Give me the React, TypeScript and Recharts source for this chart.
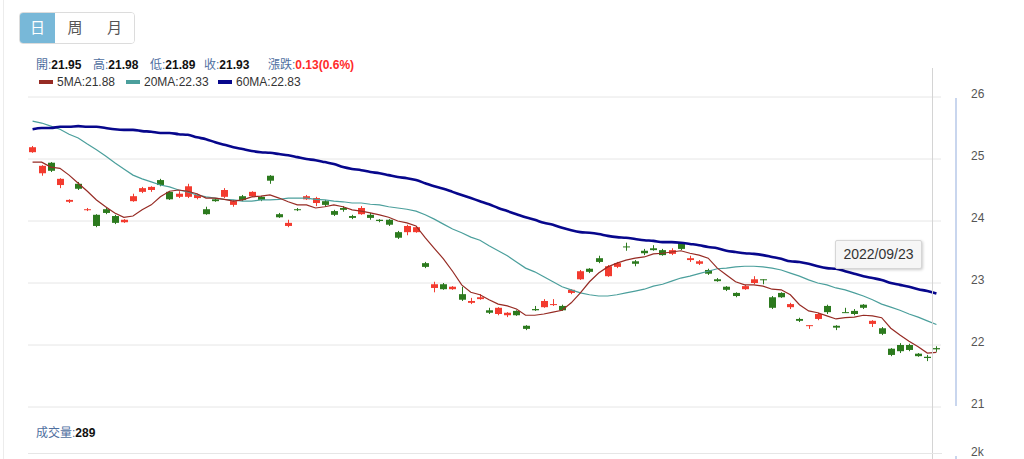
import { Bar, CartesianGrid, ComposedChart, Line, XAxis, YAxis } from "recharts"

// daily candles, oldest first (last one is 2022/09/23)
const OPENS = [
  25.11, 24.77, 24.94, 24.58, 24.31, 24.6, 24.18, 24.1, 24.19, 24.08,
  23.98, 24.32, 24.47, 24.5, 24.66, 24.47, 24.39, 24.39, 24.37, 24.19,
  24.35, 24.39, 24.26, 24.4, 24.4, 24.39, 24.73, 24.11, 23.92, 24.19,
  24.35, 24.29, 24.32, 24.16, 24.21, 24.08, 24.11, 24.1, 24.02, 24.02,
  23.82, 23.82, 23.82, 23.32, 22.92, 22.98, 22.9, 22.82, 22.68, 22.74,
  22.56, 22.5, 22.48, 22.55, 22.31, 22.58, 22.61, 22.65, 22.63, 22.84,
  23.06, 23.23, 23.4, 23.11, 23.26, 23.59, 23.35, 23.52, 23.56, 23.53,
  23.47, 23.65, 23.37, 23.31, 23.21, 23.06, 22.94, 22.84, 22.9, 23.0,
  23.06, 22.77, 22.84, 22.61, 22.42, 22.31, 22.42, 22.63, 22.31, 22.53,
  22.55, 22.65, 22.34, 22.27, 21.94, 22.0, 22.0, 21.86, 21.81, 21.95,
]
const HIGHS = [
  25.21, 24.9, 24.95, 24.69, 24.35, 24.63, 24.21, 24.11, 24.21, 24.1,
  24.03, 24.44, 24.55, 24.56, 24.68, 24.48, 24.48, 24.6, 24.44, 24.23,
  24.37, 24.53, 24.34, 24.42, 24.48, 24.4, 24.74, 24.13, 24.02, 24.21,
  24.42, 24.39, 24.34, 24.18, 24.24, 24.1, 24.24, 24.13, 24.03, 24.03,
  23.84, 23.94, 23.92, 23.34, 23.02, 23.0, 22.95, 22.94, 22.76, 22.82,
  22.6, 22.61, 22.53, 22.56, 22.32, 22.63, 22.74, 22.74, 22.65, 22.9,
  23.21, 23.24, 23.44, 23.29, 23.34, 23.65, 23.37, 23.55, 23.61, 23.55,
  23.56, 23.66, 23.44, 23.37, 23.23, 23.08, 22.95, 22.85, 22.97, 23.11,
  23.06, 22.79, 22.85, 22.68, 22.44, 22.32, 22.52, 22.65, 22.32, 22.6,
  22.58, 22.66, 22.4, 22.29, 21.95, 22.03, 22.02, 21.87, 21.84, 21.98,
]
const LOWS = [
  25.1, 24.73, 24.79, 24.53, 24.29, 24.5, 24.16, 23.9, 24.11, 23.95,
  23.97, 24.31, 24.45, 24.47, 24.56, 24.34, 24.37, 24.37, 24.35, 24.1,
  24.31, 24.37, 24.23, 24.32, 24.39, 24.32, 24.6, 24.05, 23.9, 24.16,
  24.34, 24.24, 24.24, 24.08, 24.15, 24.03, 24.1, 24.02, 23.98, 23.92,
  23.71, 23.77, 23.81, 23.24, 22.85, 22.89, 22.89, 22.71, 22.66, 22.73,
  22.5, 22.48, 22.45, 22.47, 22.24, 22.55, 22.6, 22.63, 22.55, 22.82,
  23.05, 23.16, 23.32, 23.1, 23.24, 23.52, 23.27, 23.45, 23.52, 23.44,
  23.45, 23.53, 23.34, 23.29, 23.13, 23.02, 22.87, 22.77, 22.89, 22.98,
  22.98, 22.58, 22.76, 22.58, 22.37, 22.26, 22.4, 22.5, 22.24, 22.52,
  22.48, 22.58, 22.29, 22.16, 21.82, 21.87, 21.9, 21.81, 21.74, 21.89,
]
const CLOSES = [
  25.19, 24.89, 24.81, 24.68, 24.34, 24.52, 24.19, 23.92, 24.13, 23.97,
  24.02, 24.4, 24.53, 24.55, 24.58, 24.35, 24.44, 24.56, 24.42, 24.11,
  24.32, 24.5, 24.32, 24.34, 24.47, 24.34, 24.65, 24.06, 23.97, 24.18,
  24.4, 24.37, 24.26, 24.1, 24.18, 24.05, 24.21, 24.05, 24.0, 23.94,
  23.73, 23.92, 23.9, 23.26, 22.98, 22.9, 22.94, 22.73, 22.71, 22.77,
  22.52, 22.6, 22.52, 22.48, 22.26, 22.56, 22.71, 22.66, 22.56, 22.89,
  23.19, 23.18, 23.34, 23.27, 23.32, 23.58, 23.31, 23.48, 23.53, 23.45,
  23.53, 23.55, 23.4, 23.35, 23.15, 23.03, 22.89, 22.79, 22.95, 23.06,
  23.05, 22.6, 22.77, 22.66, 22.39, 22.32, 22.5, 22.53, 22.28, 22.52,
  22.5, 22.6, 22.39, 22.18, 21.84, 21.9, 21.92, 21.82, 21.79, 21.93,
]

const MA5 = [
  24.95, 24.95, 24.87, 24.85, 24.74, 24.61, 24.48, 24.34, 24.23, 24.13,
  24.06, 24.08, 24.18, 24.26, 24.39, 24.48, 24.5, 24.48, 24.44, 24.37,
  24.37, 24.35, 24.32, 24.34, 24.39, 24.4, 24.42, 24.37, 24.31, 24.26,
  24.26, 24.21, 24.23, 24.26, 24.23, 24.18, 24.16, 24.13, 24.1, 24.06,
  24.0, 23.97, 23.92, 23.73, 23.56, 23.39, 23.19, 22.97, 22.85, 22.81,
  22.73, 22.66, 22.63, 22.58, 22.48, 22.48, 22.5, 22.53, 22.56, 22.68,
  22.84, 23.02, 23.16, 23.26, 23.32, 23.37, 23.4, 23.42, 23.47, 23.48,
  23.5, 23.52, 23.48, 23.45, 23.4, 23.24, 23.13, 23.02, 22.97, 22.97,
  22.95, 22.9, 22.89, 22.81, 22.65, 22.55, 22.52, 22.47, 22.42, 22.44,
  22.45, 22.48, 22.47, 22.44, 22.27, 22.16, 22.06, 21.97, 21.87, 21.88,
]
const MA20 = [
  25.61, 25.58, 25.53, 25.48, 25.4, 25.34, 25.24, 25.15, 25.05, 24.94,
  24.84, 24.74, 24.68, 24.63, 24.58, 24.55, 24.5, 24.47, 24.42, 24.39,
  24.37, 24.35, 24.34, 24.32, 24.32, 24.34, 24.34, 24.35, 24.37, 24.37,
  24.37, 24.35, 24.34, 24.32, 24.31, 24.29, 24.29, 24.27, 24.26, 24.23,
  24.21, 24.19, 24.16, 24.1, 24.03, 23.95, 23.87, 23.81, 23.74, 23.69,
  23.6, 23.52, 23.44, 23.34, 23.24, 23.18, 23.1, 23.02, 22.94, 22.89,
  22.84, 22.81, 22.79, 22.79, 22.81, 22.84, 22.87, 22.9, 22.95, 22.98,
  23.03, 23.08, 23.11, 23.15, 23.19, 23.23, 23.24, 23.26, 23.27, 23.27,
  23.26, 23.24, 23.21, 23.16, 23.11, 23.05, 23.0, 22.97, 22.92, 22.89,
  22.84, 22.79, 22.73, 22.66, 22.61, 22.56, 22.5, 22.45, 22.39, 22.33,
]
const MA60 = [
  25.48, 25.5, 25.5, 25.52, 25.52, 25.53, 25.52, 25.52, 25.5, 25.48,
  25.47, 25.47, 25.45, 25.44, 25.42, 25.42, 25.4, 25.39, 25.35, 25.32,
  25.27, 25.23, 25.19, 25.16, 25.13, 25.11, 25.1, 25.08, 25.06, 25.03,
  25.0, 24.98, 24.95, 24.92, 24.87, 24.84, 24.82, 24.79, 24.77, 24.74,
  24.71, 24.69, 24.66, 24.61, 24.56, 24.52, 24.47, 24.42, 24.37, 24.32,
  24.27, 24.21, 24.16, 24.11, 24.06, 24.02, 23.97, 23.94, 23.89, 23.85,
  23.82, 23.81, 23.79, 23.76, 23.74, 23.73, 23.71, 23.69, 23.68, 23.66,
  23.66, 23.65, 23.63, 23.61, 23.58, 23.56, 23.52, 23.5, 23.48, 23.47,
  23.45, 23.42, 23.39, 23.35, 23.34, 23.31, 23.27, 23.24, 23.23, 23.19,
  23.15, 23.11, 23.08, 23.05, 23.0, 22.97, 22.94, 22.9, 22.87, 22.83,
]

const PRICE_TICKS = [21, 22, 23, 24, 25, 26]
const PERIOD_TABS = ["日", "周", "月"]
const TAB_WIDTHS = [35, 40, 39]
const LAST_DATE = "2022/09/23"
const QUOTE_LABELS = ["開", "高", "低", "收"]
const QUOTE_VALUES = ["21.95", "21.98", "21.89", "21.93"]
const QUOTE_X = [36, 93, 150, 204]
const CHANGE_TEXT = "0.13(0.6%)"
const VOLUME_TEXT = "289"

const UP = "#f33b2f"
const DOWN = "#2c7a1e"
const MA_COLORS = { ma5: "#962b24", ma20: "#4b9f9c", ma60: "#07078c" }
const LABEL_BLUE = "#4f6f9f"
const FONT = "Helvetica, Arial, 'Liberation Sans', 'Noto Sans CJK TC', sans-serif"

const data = OPENS.map((open, i) => ({
  day: i,
  open,
  high: HIGHS[i],
  low: LOWS[i],
  close: CLOSES[i],
  ma5: MA5[i],
  ma20: MA20[i],
  ma60: MA60[i],
}))

function Candle(props: any) {
  const { x, y, width, height, payload } = props
  if (!payload) return null
  const { open, close, high, low } = payload
  const color = close >= open ? UP : DOWN
  const top = Math.min(y, y + height)
  const h = Math.abs(height)
  const ratio = high === low ? 0 : h / (high - low)
  const yOpen = top + (high - open) * ratio
  const yClose = top + (high - close) * ratio
  const bodyTop = Math.min(yOpen, yClose)
  const bodyH = Math.max(1, Math.abs(yOpen - yClose))
  const cx = Math.round(x + width / 2) + 0.5
  return (
    <g>
      <line x1={cx} x2={cx} y1={top} y2={top + h} stroke={color} strokeWidth={1} />
      <rect x={cx - 3.5} y={bodyTop} width={7} height={bodyH} fill={color} />
    </g>
  )
}

function PriceTick(props: any) {
  const { x, y, payload } = props
  return (
    <text x={x} y={y - 2} textAnchor="start" dominantBaseline="middle" fill="#555" fontSize={12}>
      {payload.value}
    </text>
  )
}

function Legend() {
  const items = [
    { color: MA_COLORS.ma5, text: "5MA:21.88", x: 39 },
    { color: MA_COLORS.ma20, text: "20MA:22.33", x: 126 },
    { color: MA_COLORS.ma60, text: "60MA:22.83", x: 218 },
  ]
  return (
    <>
      {items.map((it) => (
        <div key={it.text} style={{ position: "absolute", left: it.x, top: 75, height: 14, display: "flex", alignItems: "center" }}>
          <span style={{ display: "inline-block", width: 14, height: 4, background: it.color, marginRight: 4 }} />
          <span style={{ fontSize: 12, color: "#333" }}>{it.text}</span>
        </div>
      ))}
    </>
  )
}

export default function App() {
  return (
    <div style={{ position: "relative", width: 1024, height: 459, overflow: "hidden", background: "#fff", fontFamily: FONT }}>
      <style>{"body{margin:0}"}</style>

      <div style={{ position: "absolute", left: 3, top: 0, width: 1, height: 459, background: "#ececec" }} />

      {/* period tabs */}
      <div style={{ position: "absolute", left: 19, top: 12, height: 32, display: "flex", border: "1px solid #dcdcdc", borderRadius: 4, overflow: "hidden", boxSizing: "border-box" }}>
        {PERIOD_TABS.map((t, i) => (
          <div
            key={t}
            style={{
              width: TAB_WIDTHS[i],
              height: 30,
              lineHeight: "30px",
              textAlign: "center",
              fontSize: 15,
              background: i === 0 ? "#78b8d8" : "#fff",
              color: i === 0 ? "#fff" : "#555",
            }}
          >
            {t}
          </div>
        ))}
      </div>

      {/* quote row */}
      {QUOTE_LABELS.map((label, i) => (
        <div key={label} style={{ position: "absolute", left: QUOTE_X[i], top: 58, fontSize: 12, lineHeight: "14px", whiteSpace: "nowrap" }}>
          <span style={{ color: LABEL_BLUE }}>{label}:</span>
          <b style={{ color: "#111" }}>{QUOTE_VALUES[i]}</b>
        </div>
      ))}
      <div style={{ position: "absolute", left: 268, top: 58, fontSize: 12, lineHeight: "14px", whiteSpace: "nowrap" }}>
        <span style={{ color: LABEL_BLUE }}>漲跌:</span>
        <b style={{ color: "#ff2a2a" }}>{CHANGE_TEXT}</b>
      </div>

      <Legend />

      <div style={{ position: "absolute", left: 0, top: 0 }}>
        <ComposedChart width={1024} height={459} data={data} margin={{ top: 97, right: 23, bottom: 52, left: 28 }}>
          <CartesianGrid vertical={false} stroke="#e6e6e6" />
          <XAxis dataKey="day" hide />
          <YAxis
            orientation="right"
            width={60}
            domain={[21, 26]}
            ticks={PRICE_TICKS}
            axisLine={false}
            tickLine={false}
            tickSize={0}
            tickMargin={30}
            tick={<PriceTick />}
          />
          <Bar
            dataKey={(d: any) => [d.low, d.high]}
            barSize={7}
            shape={<Candle />}
            isAnimationActive={false}
          />
          <Line type="linear" dataKey="ma20" stroke={MA_COLORS.ma20} strokeWidth={1.2} dot={false} isAnimationActive={false} />
          <Line type="linear" dataKey="ma5" stroke={MA_COLORS.ma5} strokeWidth={1.2} dot={false} isAnimationActive={false} />
          <Line type="monotone" dataKey="ma60" stroke={MA_COLORS.ma60} strokeWidth={2.6} dot={false} isAnimationActive={false} />
        </ComposedChart>
      </div>

      {/* right axis bars, crosshair, volume panel top */}
      <div style={{ position: "absolute", left: 955, top: 98, width: 2, height: 308, background: "#c9d6ee" }} />
      <div style={{ position: "absolute", left: 955, top: 456, width: 2, height: 10, background: "#c9d6ee" }} />
      <div style={{ position: "absolute", left: 932, top: 68, width: 1, height: 391, background: "#d4d4d4" }} />
      <div style={{ position: "absolute", left: 28, top: 453, width: 914, height: 1, background: "#e6e6e6" }} />
      <div style={{ position: "absolute", left: 971, top: 445, fontSize: 12, color: "#555" }}>2k</div>

      <div style={{ position: "absolute", left: 36, top: 426, fontSize: 12, lineHeight: "14px", whiteSpace: "nowrap" }}>
        <span style={{ color: LABEL_BLUE }}>成交量:</span>
        <b style={{ color: "#111" }}>{VOLUME_TEXT}</b>
      </div>

      <div
        style={{
          position: "absolute",
          left: 835,
          top: 240,
          width: 87,
          height: 29,
          boxSizing: "border-box",
          background: "#f6f6f6",
          border: "1px solid #d6d6d6",
          borderRadius: 2,
          boxShadow: "1px 1px 3px rgba(0,0,0,0.2)",
          fontSize: 14,
          lineHeight: "27px",
          textAlign: "center",
          color: "#333",
        }}
      >
        {LAST_DATE}
      </div>
    </div>
  )
}
